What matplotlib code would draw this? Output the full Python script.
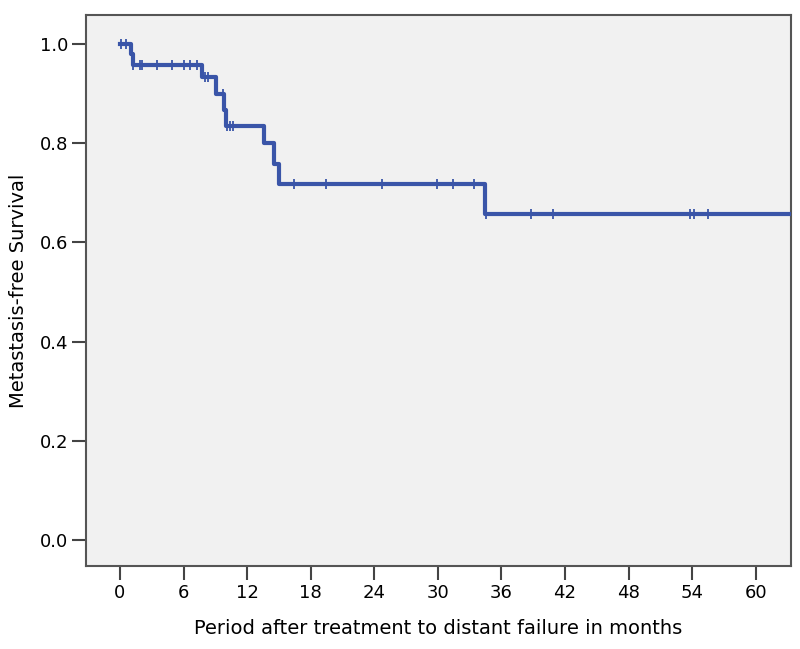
import matplotlib.pyplot as plt
import numpy as np

plt.rcParams['font.family'] = ['DejaVu Sans']

# step curve: event times (months) and survival after each step
step_t = [0.0, 1.0, 1.2, 7.7, 9.1, 9.8, 10.0, 13.6, 14.5, 15.0, 34.4]
step_s = [1.0, 0.979, 0.958, 0.932, 0.899, 0.867, 0.835, 0.799, 0.758, 0.717, 0.657]
t_end = 63.4

# censored observations (months)
censored = [0.1, 0.6, 1.25, 1.9, 2.1, 3.5, 4.9, 6.0, 6.6, 7.3, 8.0, 8.3, 9.7,
            10.1, 10.4, 10.7, 16.4, 19.4, 24.7, 29.9, 31.4, 33.4, 34.5,
            38.8, 40.9, 53.8, 54.2, 55.5]

xticks = [0, 6, 12, 18, 24, 30, 36, 42, 48, 54, 60]
yticks = [0.0, 0.2, 0.4, 0.6, 0.8, 1.0]

blue = '#3a55a8'
fig = plt.figure(figsize=(8, 6.49), dpi=100)
ax = fig.add_axes([0.1075, 0.128, 0.881, 0.849])
ax.set_facecolor('#f1f1f1')

ax.step(step_t + [t_end], step_s + [step_s[-1]], where='post', color=blue, lw=3, zorder=3)

idx = np.searchsorted(step_t, censored, side='right') - 1
cens_s = np.array(step_s)[idx]
ax.plot(censored, cens_s, ls='none', marker='|', ms=7, mew=1.3, color=blue, zorder=4)

ax.set_xlim(-3.2, 63.3)
ax.set_ylim(-0.052, 1.058)
ax.set_xticks(xticks)
ax.set_yticks(yticks)
ax.set_yticklabels([f'{v:.1f}' for v in yticks])

for s in ax.spines.values():
    s.set_color('#555555')
    s.set_linewidth(1.5)
ax.tick_params(axis='both', labelsize=13, length=10, width=1.5, color='#444444', pad=3)

ax.set_xlabel('Period after treatment to distant failure in months', fontsize=14, labelpad=12)
ax.set_ylabel('Metastasis-free Survival', fontsize=14, labelpad=8)

fig.savefig('out.png', dpi=100)
